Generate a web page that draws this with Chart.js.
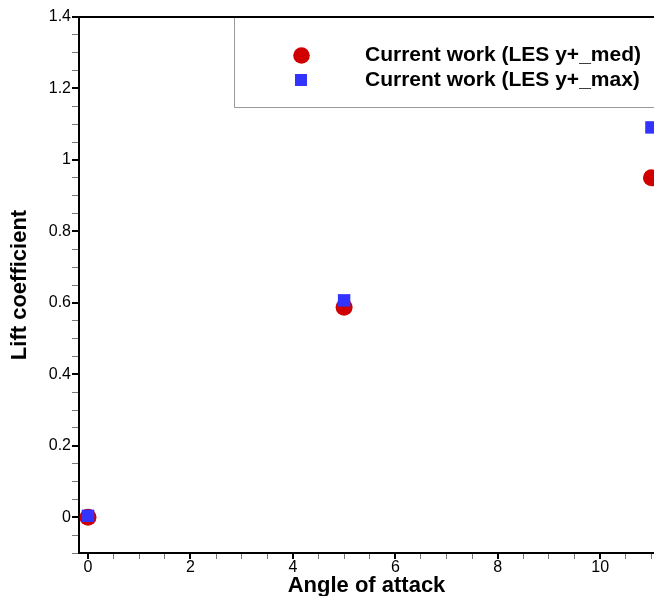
<!DOCTYPE html>
<html>
<head>
<meta charset="utf-8">
<script src="https://cdn.jsdelivr.net/npm/chart.js@4/dist/chart.umd.min.js"></script>
<style>
  html, body { margin: 0; padding: 0; background: #ffffff; }
  #wrap { width: 654px; height: 596px; position: relative; }
</style>
</head>
<body>
<div id="wrap"><canvas id="c" width="654" height="596"></canvas></div>
<script>
// ---- data ----
const angles = [0, 5, 11];
const liftMed = [0.0, 0.588, 0.950];
const liftMax = [0.004, 0.607, 1.091];
const seriesLabels = ["Current work (LES y+_med)", "Current work (LES y+_max)"];
const xTickLabels = ["0", "2", "4", "6", "8", "10"];
const yTickLabels = ["0", "0.2", "0.4", "0.6", "0.8", "1", "1.2", "1.4"];
const xTitle = "Angle of attack";
const yTitle = "Lift coefficient";

const FONT = "'Liberation Sans', Arial, Helvetica, sans-serif";
const RED = "#d00000";
const BLUE = "#3333ff";

function isMult(v, step) { const r = v / step; return Math.abs(r - Math.round(r)) < 1e-6; }

const boxLegend = {
  id: 'boxLegend',
  afterDraw(chart) {
    const ctx = chart.ctx;
    const area = chart.chartArea;
    ctx.save();
    // top frame line
    ctx.strokeStyle = '#000';
    ctx.lineWidth = 2;
    ctx.beginPath();
    ctx.moveTo(area.left, area.top);
    ctx.lineTo(chart.width + 2, area.top);
    ctx.stroke();
    // legend box
    const bx = 234.5, by = area.top, bw = 440, bh = 90.5;
    ctx.strokeStyle = '#999';
    ctx.lineWidth = 1;
    ctx.beginPath();
    ctx.moveTo(bx + bw, by + bh);
    ctx.lineTo(bx, by + bh);
    ctx.lineTo(bx, by + 1);
    ctx.stroke();
    const rows = [55.5, 80];
    chart.data.datasets.forEach((ds, i) => {
      const y = rows[i];
      ctx.fillStyle = ds.backgroundColor;
      if (ds.pointStyle === 'circle') {
        ctx.beginPath();
        ctx.arc(301.5, y, 8.3, 0, Math.PI * 2);
        ctx.fill();
      } else {
        ctx.fillRect(301 - 6, y - 6, 12, 12);
      }
      ctx.fillStyle = '#000';
      ctx.font = "bold 21px " + FONT;
      ctx.textBaseline = 'middle';
      ctx.textAlign = 'left';
      ctx.fillText(ds.label, 365, y);
    });
    ctx.restore();
  }
};

const ctx = document.getElementById('c').getContext('2d');
new Chart(ctx, {
  type: 'scatter',
  data: {
    datasets: [
      {
        label: seriesLabels[0],
        data: angles.map((a, i) => ({ x: a, y: liftMed[i] })),
        pointStyle: 'circle',
        backgroundColor: RED,
        borderColor: RED,
        borderWidth: 0,
        pointRadius: 8.5,
        pointHoverRadius: 8.5,
        clip: false,
        order: 1
      },
      {
        label: seriesLabels[1],
        data: angles.map((a, i) => ({ x: a, y: liftMax[i] })),
        pointStyle: 'rect',
        backgroundColor: BLUE,
        borderColor: BLUE,
        borderWidth: 0,
        pointRadius: 8.8,
        pointHoverRadius: 8.8,
        clip: false,
        order: 0
      }
    ]
  },
  options: {
    responsive: false,
    animation: false,
    events: [],
    layout: { autoPadding: false, padding: { top: 17, right: 0, left: 0, bottom: 0 } },
    plugins: { legend: { display: false }, tooltip: { enabled: false } },
    scales: {
      x: {
        type: 'linear',
        min: -0.176,
        max: 11.05,
        afterBuildTicks(scale) {
          const t = [];
          for (let k = 0; k <= 22; k++) t.push({ value: k / 2 });
          scale.ticks = t;
        },
        afterFit(scale) { scale.height = 43; scale.paddingRight = 0; scale.paddingLeft = 0; },
        border: { display: true, color: '#000', width: 2 },
        grid: {
          drawOnChartArea: false,
          drawTicks: true,
          tickLength: 6,
          color: (c) => (c.tick && isMult(c.tick.value, 2)) ? '#000' : '#777',
          lineWidth: (c) => (c.tick && isMult(c.tick.value, 2)) ? 2 : 1
        },
        ticks: {
          autoSkip: false,
          maxRotation: 0,
          padding: -1,
          color: '#000',
          font: { family: FONT, size: 16 },
          callback: (v) => {
            if (!isMult(v, 2)) return '';
            const idx = Math.round(v / 2);
            return xTickLabels[idx] !== undefined ? xTickLabels[idx] : '';
          }
        },
        title: {
          display: true,
          text: xTitle,
          color: '#000',
          font: { family: FONT, size: 22, weight: 'bold' },
          padding: { top: 0, bottom: -3 }
        }
      },
      y: {
        type: 'linear',
        min: -0.1,
        max: 1.4,
        afterBuildTicks(scale) {
          const t = [];
          for (let k = -2; k <= 28; k++) t.push({ value: Math.round(k * 5) / 100 });
          scale.ticks = t;
        },
        afterFit(scale) { scale.width = 79; },
        border: { display: true, color: '#000', width: 2 },
        grid: {
          drawOnChartArea: false,
          drawTicks: true,
          tickLength: 7,
          color: (c) => (c.tick && isMult(c.tick.value, 0.2)) ? '#000' : '#777',
          lineWidth: (c) => (c.tick && isMult(c.tick.value, 0.2)) ? 2 : 1
        },
        ticks: {
          autoSkip: false,
          padding: 1,
          color: '#000',
          font: { family: FONT, size: 16 },
          callback: (v) => {
            if (!isMult(v, 0.2) || v < -0.0001) return '';
            const idx = Math.round(v / 0.2);
            return yTickLabels[idx] !== undefined ? yTickLabels[idx] : '';
          }
        },
        title: {
          display: true,
          text: yTitle,
          color: '#000',
          font: { family: FONT, size: 22, weight: 'bold' },
          padding: { top: 7, bottom: 0 }
        }
      }
    }
  },
  plugins: [boxLegend]
});
</script>
</body>
</html>
